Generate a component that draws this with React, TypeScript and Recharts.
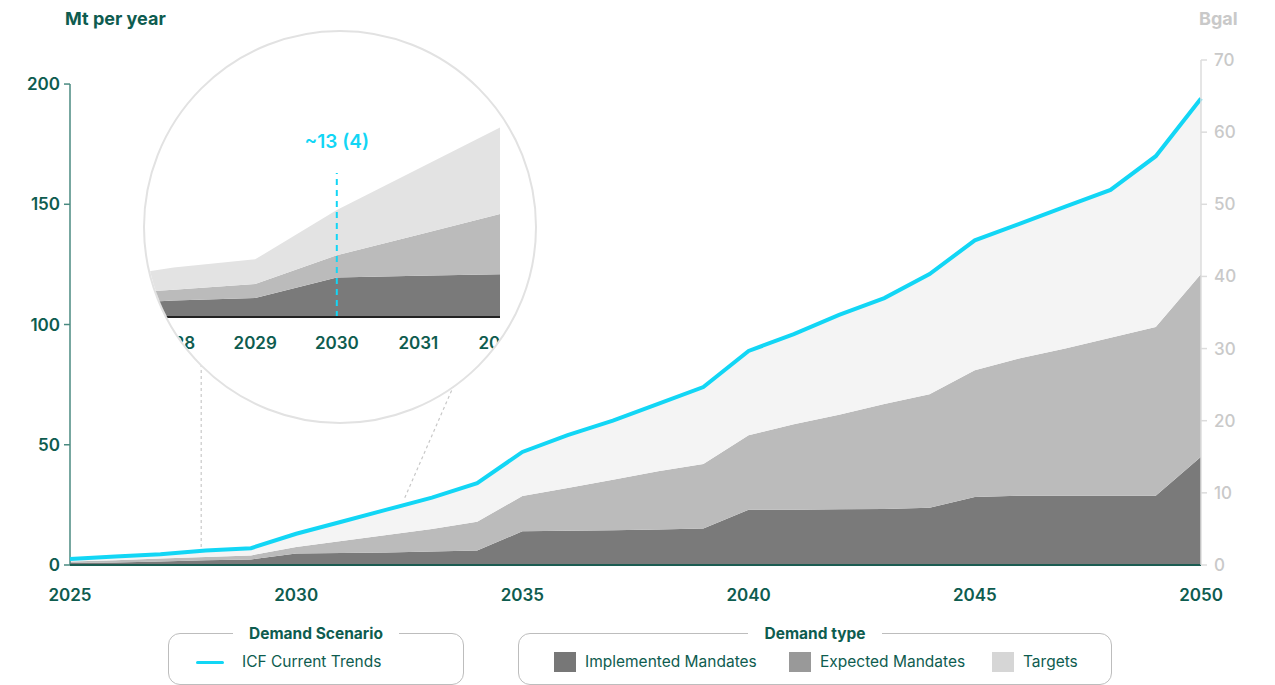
import React from 'react';
import {
  AreaChart, Area, Line, XAxis, YAxis, ReferenceLine, ReferenceDot, ComposedChart,
} from 'recharts';

const years = [2025, 2026, 2027, 2028, 2029, 2030, 2031, 2032, 2033, 2034, 2035, 2036, 2037, 2038, 2039, 2040, 2041, 2042, 2043, 2044, 2045, 2046, 2047, 2048, 2049, 2050];
const implemented = [0.8, 1.0, 1.5, 2.0, 2.3, 4.8, 5.0, 5.2, 5.6, 6.0, 14.0, 14.2, 14.5, 14.8, 15.2, 23.0, 23.0, 23.2, 23.3, 23.8, 28.3, 28.8, 28.8, 28.8, 28.8, 45.0];
const expected = [0.7, 1.0, 1.2, 1.3, 1.7, 2.7, 5.0, 7.3, 9.4, 12.0, 14.7, 17.8, 21.0, 24.2, 26.8, 31.0, 35.5, 39.3, 43.7, 47.2, 52.7, 57.2, 61.2, 65.7, 70.2, 76.0];
const targets = [1.0, 1.5, 1.8, 2.7, 3.0, 5.5, 8.0, 10.5, 13.0, 16.0, 18.3, 22.0, 24.5, 28.0, 32.0, 35.0, 37.5, 41.5, 44.0, 50.0, 54.0, 56.0, 59.0, 61.5, 71.0, 74.0];
const icfCurrentTrends = [2.5, 3.5, 4.5, 6, 7, 13, 18, 23, 28, 34, 47, 54, 60, 67, 74, 89, 96, 104, 111, 121, 135, 142, 149, 156, 170, 194];

const xTicks = [2025, 2030, 2035, 2040, 2045, 2050];
const leftTicks = [0, 50, 100, 150, 200];
const rightTicks = [0, 10, 20, 30, 40, 50, 60, 70];
const zoomTicks = [2028, 2029, 2030, 2031, 2032];
const zoomYears = [2027, 2032];
const calloutYear = 2030;
const calloutValue = 13;
const calloutLabel = '~13 (4)';

const data = years.map((y, i) => ({
  year: y,
  implemented: implemented[i],
  expected: expected[i],
  targets: targets[i],
  icf: icfCurrentTrends[i],
}));
const zoomData = data.filter((d) => d.year >= zoomYears[0] && d.year <= zoomYears[1]);

const TEAL = '#0e5c4f';
const CYAN = '#12d6f5';
const FONT = 'Inter, "Noto Sans", sans-serif';

export default function App() {
  return (
    <div style={{ position: 'absolute', left: 0, top: 0, width: 1275, height: 685, background: '#fff', fontFamily: FONT, overflow: 'hidden' }}>
      <div style={{ position: 'absolute', left: 65, top: 8, fontSize: 18, fontWeight: 700, color: TEAL }}>Mt per year</div>
      <div style={{ position: 'absolute', left: 1199, top: 8, fontSize: 18, fontWeight: 700, color: '#c9c9c9' }}>Bgal</div>

      <div style={{ position: 'absolute', left: 0, top: 0 }}>
        <ComposedChart width={1275} height={620} data={data} margin={{ top: 60, right: 0, bottom: 10, left: 0 }}>
          <XAxis
            dataKey="year"
            type="number"
            domain={[2025, 2050]}
            ticks={xTicks}
            interval={0}
            axisLine={{ stroke: '#1b5c52', strokeWidth: 2 }}
            tickLine={false}
            tickSize={8}
            tickMargin={16}
            height={45}
            tick={{ fill: TEAL, fontSize: 17, fontWeight: 600, fontFamily: FONT }}
          />
          <YAxis
            yAxisId="left"
            domain={[0, 210]}
            ticks={leftTicks}
            interval={0}
            width={70}
            axisLine={false}
            tickLine={{ stroke: '#4a8a80', strokeWidth: 1.5 }}
            tickSize={6}
            tickMargin={4}
            tick={{ fill: TEAL, fontSize: 17, fontWeight: 600, fontFamily: FONT }}
          />
          <YAxis
            yAxisId="right"
            orientation="right"
            domain={[0, 70]}
            allowDataOverflow
            ticks={rightTicks}
            interval={0}
            width={74}
            axisLine={{ stroke: '#dcdcdc', strokeWidth: 1.5 }}
            tickLine={{ stroke: '#dcdcdc', strokeWidth: 1.5 }}
            tickSize={6}
            tickMargin={7}
            tick={{ fill: '#c9c9c9', fontSize: 17, fontWeight: 500, fontFamily: FONT }}
          />
          <Area yAxisId="left" type="linear" dataKey="implemented" stackId="1" stroke="none" fill="#7a7a7a" fillOpacity={1} isAnimationActive={false} />
          <Area yAxisId="left" type="linear" dataKey="expected" stackId="1" stroke="none" fill="#bbbbbb" fillOpacity={1} isAnimationActive={false} />
          <Area yAxisId="left" type="linear" dataKey="targets" stackId="1" stroke="none" fill="#f4f4f4" fillOpacity={1} isAnimationActive={false} />
          <Line yAxisId="right" type="linear" dataKey="implemented" stroke="none" strokeOpacity={0} dot={false} activeDot={false} isAnimationActive={false} />
          <ReferenceLine yAxisId="left" segment={[{ x: 2025, y: 0 }, { x: 2025, y: 200 }]} stroke="#4a8a80" strokeWidth={1.5} ifOverflow="visible" />
          <ReferenceLine yAxisId="left" segment={[{ x: 2027.9, y: 7.5 }, { x: 2027.9, y: 120 }]} stroke="#c8c8c8" strokeWidth={1.2} strokeDasharray="3 3" ifOverflow="visible" />
          <ReferenceLine yAxisId="left" segment={[{ x: 2032.4, y: 28 }, { x: 2035, y: 140 }]} stroke="#c8c8c8" strokeWidth={1.2} strokeDasharray="3 3" ifOverflow="visible" />
          <Line yAxisId="left" type="linear" dataKey="icf" stroke={CYAN} strokeWidth={4} dot={false} isAnimationActive={false} />
        </ComposedChart>
      </div>

      {/* magnifier */}
      <div style={{ position: 'absolute', left: 143, top: 30, width: 394, height: 394, borderRadius: '50%', border: '2px solid #e2e2e2', boxSizing: 'border-box', overflow: 'hidden', background: '#fff' }}>
        <div style={{ position: 'absolute', left: -53, top: 0 }}>
          <AreaChart width={408} height={325} data={zoomData} margin={{ top: 75, right: 0, bottom: 0, left: 0 }}>
            <XAxis
              dataKey="year"
              type="number"
              domain={zoomYears}
              ticks={zoomTicks}
              interval={0}
              axisLine={{ stroke: '#222', strokeWidth: 2 }}
              tickLine={false}
              tickSize={8}
              tickMargin={12}
              height={40}
              tick={{ fill: TEAL, fontSize: 17, fontWeight: 600, fontFamily: FONT }}
            />
            <YAxis hide domain={[0, 25.5]} />
            <Area type="linear" dataKey="implemented" stackId="1" stroke="none" fill="#7a7a7a" fillOpacity={1} isAnimationActive={false} />
            <Area type="linear" dataKey="expected" stackId="1" stroke="none" fill="#bbbbbb" fillOpacity={1} isAnimationActive={false} />
            <Area type="linear" dataKey="targets" stackId="1" stroke="none" fill="#e3e3e3" fillOpacity={1} isAnimationActive={false} />
            <ReferenceLine segment={[{ x: calloutYear, y: 0 }, { x: calloutYear, y: 17.5 }]} stroke={CYAN} strokeWidth={2} strokeDasharray="6 5" ifOverflow="visible" />
            <ReferenceDot x={calloutYear} y={calloutValue + 8.3} r={0} fill="none" stroke="none" ifOverflow="visible"
              label={{ value: calloutLabel, position: 'center', fill: CYAN, fontSize: 19, fontWeight: 600, fontFamily: FONT }} />
          </AreaChart>
        </div>
      </div>

      {/* legends */}
      <div style={{ position: 'absolute', left: 168, top: 633, width: 296, height: 52, border: '1px solid #bdbdbd', borderRadius: 12, boxSizing: 'border-box' }}>
        <div style={{ position: 'absolute', left: 0, right: 0, top: -11, textAlign: 'center' }}>
          <span style={{ background: '#fff', padding: '0 16px', fontSize: 15.5, fontWeight: 700, color: TEAL }}>Demand Scenario</span>
        </div>
        <div style={{ position: 'absolute', left: 27, top: 27, width: 28, height: 3, background: CYAN, borderRadius: 2 }} />
        <div style={{ position: 'absolute', left: 73, top: 18, fontSize: 15.5, color: TEAL }}>ICF Current Trends</div>
      </div>

      <div style={{ position: 'absolute', left: 518, top: 633, width: 594, height: 52, border: '1px solid #bdbdbd', borderRadius: 12, boxSizing: 'border-box' }}>
        <div style={{ position: 'absolute', left: 0, right: 0, top: -11, textAlign: 'center' }}>
          <span style={{ background: '#fff', padding: '0 16px', fontSize: 15.5, fontWeight: 700, color: TEAL }}>Demand type</span>
        </div>
        {[
          { label: 'Implemented Mandates', color: '#777777', x: 35 },
          { label: 'Expected Mandates', color: '#999999', x: 270 },
          { label: 'Targets', color: '#d6d6d6', x: 473 },
        ].map((it) => (
          <React.Fragment key={it.label}>
            <div style={{ position: 'absolute', left: it.x, top: 18, width: 22, height: 20, background: it.color }} />
            <div style={{ position: 'absolute', left: it.x + 31, top: 18, fontSize: 15.5, color: TEAL }}>{it.label}</div>
          </React.Fragment>
        ))}
      </div>
    </div>
  );
}
